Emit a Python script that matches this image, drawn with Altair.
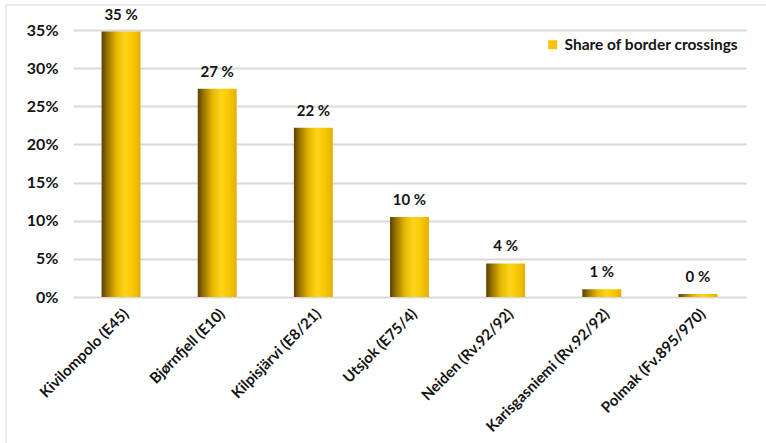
import altair as alt
import pandas as pd

crossings = ["Kivilompolo (E45)", "Bjørnfjell (E10)", "Kilpisjärvi (E8/21)", "Utsjok (E75/4)",
             "Neiden (Rv.92/92)", "Karisgasniemi (Rv.92/92)", "Polmak (Fv.895/970)"]
shares = [0.348, 0.273, 0.222, 0.105, 0.044, 0.010, 0.004]
labels = ["35 %", "27 %", "22 %", "10 %", "4 %", "1 %", "0 %"]
y_ticks = [0, 0.05, 0.10, 0.15, 0.20, 0.25, 0.30, 0.35]
series_name = "Share of border crossings"

df = pd.DataFrame({"crossing": crossings, "share": shares, "label": labels, "series": series_name})

FONT = "Lato"
TXT = "#141414"

gradient = alt.LinearGradient(
    gradient="linear", x1=0, x2=1, y1=0, y2=0,
    stops=[
        alt.GradientStop(color="#5a4100", offset=0),
        alt.GradientStop(color="#9a7300", offset=0.15),
        alt.GradientStop(color="#e6b800", offset=0.38),
        alt.GradientStop(color="#ffd41a", offset=0.6),
        alt.GradientStop(color="#f7c800", offset=0.8),
        alt.GradientStop(color="#e2b000", offset=1),
    ],
)

x = alt.X("crossing:N", sort=crossings, title=None,
          scale=alt.Scale(paddingInner=0, paddingOuter=0),
          axis=alt.Axis(labelAngle=-45, labelFont=FONT, labelFontSize=15, labelFontWeight="bold",
                        labelColor=TXT, labelPadding=9, ticks=False, domain=False, grid=False,
                        labelLimit=300))
y = alt.Y("share:Q", title=None,
          scale=alt.Scale(domain=[0, 0.35], nice=False),
          axis=alt.Axis(values=y_ticks, format=".0%", labelFont=FONT, labelFontSize=16,
                        labelFontWeight="bold", labelColor=TXT, labelPadding=15, ticks=False,
                        domain=False, grid=True, gridColor="#d9d9d9", gridWidth=2))

base = alt.Chart(df)

bars = base.mark_bar(color=gradient, width=alt.RelativeBandSize(0.405)).encode(x=x, y=y)

text = base.mark_text(baseline="alphabetic", dy=-12, font=FONT, fontSize=15, fontWeight="bold",
                      color=TXT).encode(x=x, y=y, text="label:N")

legend_layer = base.mark_square(opacity=0, size=0).encode(
    x=x, y=y,
    color=alt.Color("series:N", title=None,
                    scale=alt.Scale(range=["#ffc000"]),
                    legend=alt.Legend(orient="none", legendX=472, legendY=7, symbolType="square",
                                      symbolSize=81, symbolOpacity=1, symbolStrokeWidth=0,
                                      symbolFillColor="#ffc000",
                                      labelFont=FONT, labelFontSize=15.5, labelFontWeight="bold",
                                      labelColor=TXT, labelOffset=4, padding=0, labelLimit=300)),
)

frame_top = alt.Chart(pd.DataFrame({"k": [0]})).mark_rule(color="#d9d9d9", strokeWidth=1).encode(
    x=alt.value(-67), x2=alt.value(700), y=alt.value(-25))
frame_left = alt.Chart(pd.DataFrame({"k": [0]})).mark_rule(color="#d9d9d9", strokeWidth=1).encode(
    x=alt.value(-67), y=alt.value(-25), y2=alt.value(420))

chart = alt.layer(frame_top, frame_left, bars, text, legend_layer).properties(
    width=673, height=267,
    autosize=alt.AutoSizeParams(type="none"),
    padding={"left": 73, "top": 30, "right": 20, "bottom": 146},
    background="white",
).configure_view(stroke=None)

chart.save("out.html", embed_options={"renderer": "svg", "actions": False})
